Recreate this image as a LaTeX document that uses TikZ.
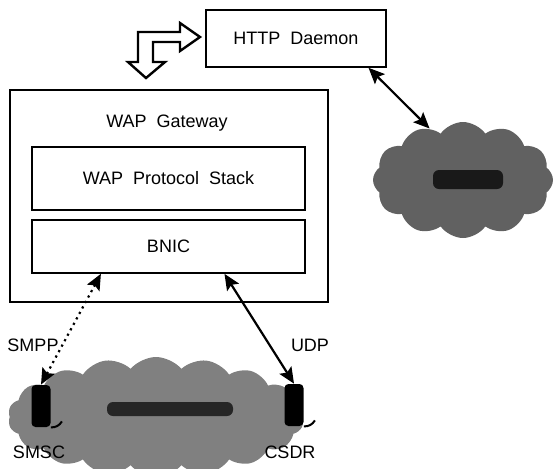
\documentclass[tikz,border=0pt]{standalone}
\usepackage{fontspec}
\setmainfont{Liberation Sans}
\usetikzlibrary{arrows.meta,shapes.symbols,positioning}
\tikzset{
	box/.style={draw, line width=0.8pt, inner sep=0pt},
	device/.style={fill=black, rounded corners=2pt, minimum width=9.5pt, minimum height=21pt, inner sep=0pt},
	net/.style={cloud, cloud ignores aspect, draw=none, inner sep=0pt},
	link/.style={{Stealth[length=8pt, width=7pt, inset=1.5pt]}-{Stealth[length=8pt, width=7pt, inset=1.5pt]}, line width=1.1pt}
}

\begin{document}
\begin{tikzpicture}[x=0.5pt, y=-0.5pt, every node/.style={font=\fontsize{9}{11}\selectfont}]
		\useasboundingbox (0, 0) rectangle (557, 468);

		% clouds
		\node[net, cloud puffs=12, cloud puff arc=110, fill=black!62, minimum width=90pt, minimum height=58pt]	(internet)	at (463, 180) {};
		\node[net, cloud puffs=18, cloud puff arc=100, fill=black!50, minimum width=148pt, minimum height=60pt]	(mobilenet)	at (156, 417) {};
		\fill[black!90, rounded corners=3pt]	(433, 170) rectangle (503, 189);
		\fill[black!85, rounded corners=3pt]	(107, 402) rectangle (233, 416);

		% boxes
		\node[box, minimum width=90pt, minimum height=28.5pt]	(http)		at (296, 38.5)	{HTTP\ \ Daemon};
		\node[box, minimum width=159pt, minimum height=106pt]	(gateway)	at (169, 196)	{};
		\node														(gwlabel)	at (167, 123)	{WAP\ \ Gateway};
		\node[box, minimum width=136.5pt, minimum height=31.5pt]	(stack)		at (168.5, 178.5) {WAP\ \ Protocol\ \ Stack};
		\node[box, minimum width=136.5pt, minimum height=26.5pt]	(bnic)		at (168.5, 246.5) {BNIC};

		% block arrow
		\draw[line width=1.2pt, fill=white]	(138, 32) -- (180, 32) -- (180, 23) -- (200, 37) -- (180, 51) -- (180, 42)
											-- (153, 42) -- (153, 62) -- (165, 62) -- (146, 78) -- (128, 62) -- (138, 62) -- cycle;

		% devices
		\node[device]	(smsc)	at (41, 406) {};
		\node[device]	(csdr)	at (294, 405) {};
		\draw[line width=1pt]	(smsc.south east) to[bend right] ++(11, -6);
		\draw[line width=1pt]	(csdr.south east) to[bend right] ++(11, -6);

		\node	(smsclabel)	at (39, 452)	{SMSC};
		\node	(csdrlabel)	at (290, 452)	{CSDR};
		\node	(smpplabel)	at (33, 345)	{SMPP};
		\node	(udplabel)	at (310, 345)	{UDP};

		% links
		\draw[link]			(http.-22) to (internet.123);
		\draw[link, dotted]	(bnic.-158) to (smsc.north);
		\draw[link]			(bnic.-26) to (csdr.north);
	\end{tikzpicture}
\end{document}
